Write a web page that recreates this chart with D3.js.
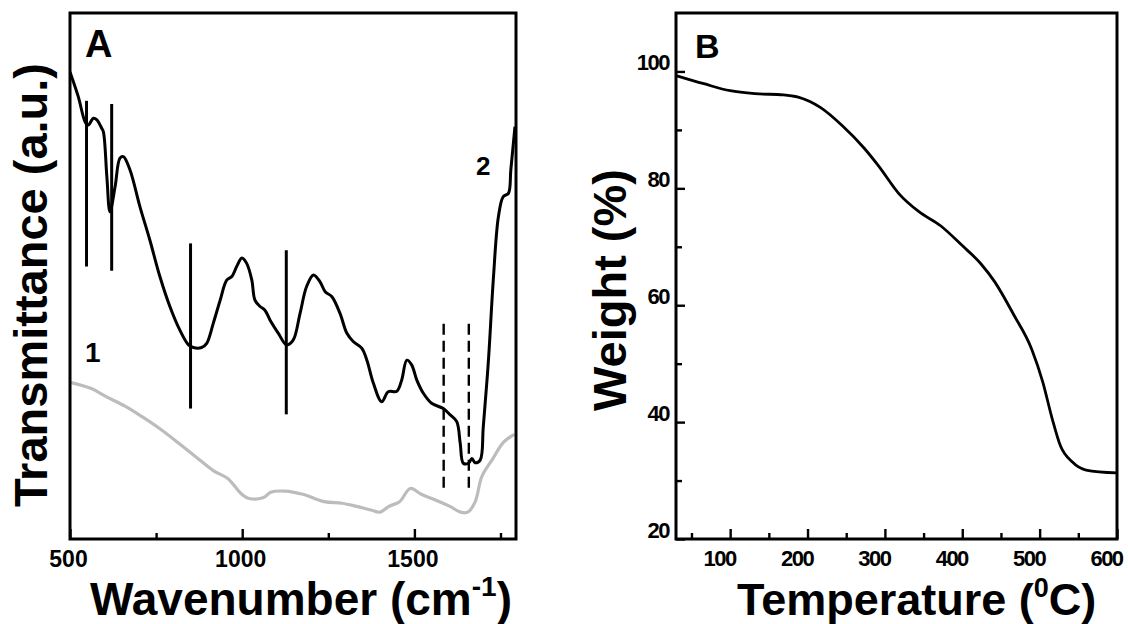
<!DOCTYPE html>
<html><head><meta charset="utf-8">
<script src="https://cdn.jsdelivr.net/npm/d3@7"></script>
<style>
body{margin:0;background:#fff}
svg{display:block;background:#fff}
text{font-family:"Liberation Sans",Arial,Helvetica,sans-serif;font-weight:bold;fill:#000}
</style>
</head><body>
<svg id="chart" width="1128" height="624"></svg>
<script>
// ---------------- Panel A : FTIR ----------------
const irWave2 = [500,524,544,553,568,578,592,597,607,616,631,645,655,674,703,732,761,790,819,844,858,882,897,916,936,955,970,984,999,1013,1028,1037,1052,1066,1081,1105,1129,1148,1168,1187,1207,1226,1241,1260,1284,1304,1323,1347,1362,1381,1405,1424,1449,1463,1478,1492,1507,1526,1550,1584,1604,1623,1633,1642,1657,1667,1676,1691,1700,1715,1729,1744,1758,1773,1780,1792];
const irTrans2 = [88.8,84.1,79.3,78.7,80.0,79.7,78.1,77.4,68.9,62.2,67.0,72.4,72.7,70.2,63.2,56.8,49.9,44.2,39.7,36.9,36.4,36.4,37.2,41.0,45.4,49.2,49.9,51.8,53.4,52.4,49.2,45.4,44.2,43.5,41.6,39.1,36.9,37.8,42.9,48.0,50.2,48.9,47.0,46.1,42.9,39.1,37.5,36.3,34.0,29.6,26.1,28.0,28.1,30.2,34.0,33.1,30.2,27.7,25.8,24.8,23.6,22.3,18.2,14.4,14.4,15.3,14.5,15.0,21.3,34.0,49.2,61.3,65.1,65.7,70.2,78.4];
const irWave1 = [500,562,604,661,708,760,812,864,916,958,999,1020,1062,1083,1124,1176,1238,1290,1332,1374,1400,1426,1457,1488,1520,1561,1603,1634,1655,1676,1696,1728,1759,1790];
const irTrans1 = [29.8,28.6,27.1,25.2,23.3,21.0,18.4,15.7,13.0,11.5,8.5,7.7,7.9,8.9,9.1,8.5,7.1,6.8,6.2,5.5,5.1,6.2,7.1,9.6,8.5,7.4,6.2,5.1,5.1,7.0,11.9,15.3,18.4,19.9];
const solidMarkWave = [548,621,850,1128];
const solidMarkTop = [83.3,82.7,56.2,54.9];
const solidMarkBottom = [51.8,51.0,24.8,23.7];
const dashMarkWave = [1585,1658];
const dashMarkTop = [40.9,40.9];
const dashMarkBottom = [9.7,9.7];
const irMajorTicks = [500,1000,1500];
const irMinorTicks = [750,1250,1750];
const irTickLabels = ["500","1000","1500"];
const irDomain = [500,1795];

// ---------------- Panel B : TGA ----------------
const tgaTemp = [30,66,100,132,169,188,217,245,273,292,318,344,372,400,424,442,466,490,504,516,527,542,560,600];
const tgaWeight = [99.3,97.9,96.7,96.2,96.0,95.6,93.8,90.7,86.9,83.8,79.1,76.0,73.6,70.2,67.1,64.0,58.5,52.4,46.9,40.7,35.9,33.2,31.8,31.3];
const tgaXMajor = [100,200,300,400,500,600];
const tgaXMinor = [50,150,250,350,450,550];
const tgaXLabels = ["100","200","300","400","500","600"];
const tgaYMajor = [20,40,60,80,100];
const tgaYMinor = [30,50,70,90];
const tgaYLabels = ["20","40","60","80","100"];

const svg = d3.select("#chart");
svg.append("rect").attr("width",1128).attr("height",624).attr("fill","#fff");

// ===== Panel A =====
const A = {l:70, r:516, t:13, b:539};
const xA = d3.scaleLinear().domain(irDomain).range([A.l, A.r]);
const yA = d3.scaleLinear().domain([0,100]).range([A.b, A.t]);

svg.append("clipPath").attr("id","clipA").append("rect")
  .attr("x",A.l).attr("y",A.t).attr("width",A.r-A.l).attr("height",A.b-A.t);

const gA = svg.append("g");
const lineA = d3.line().x(d=>xA(d[0])).y(d=>yA(d[1])).curve(d3.curveCatmullRom.alpha(0.5));
gA.append("path").datum(irWave1.map((w,i)=>[w,irTrans1[i]]))
  .attr("d",lineA).attr("fill","none").attr("stroke","#bcbcbc").attr("stroke-width",3.2)
  .attr("clip-path","url(#clipA)");
gA.append("path").datum(irWave2.map((w,i)=>[w,irTrans2[i]]))
  .attr("d",lineA).attr("fill","none").attr("stroke","#000").attr("stroke-width",3)
  .attr("stroke-linejoin","round").attr("clip-path","url(#clipA)");

gA.selectAll("line.solidmark").data(solidMarkWave).join("line").attr("class","solidmark")
  .attr("x1",d=>xA(d)).attr("x2",d=>xA(d))
  .attr("y1",(d,i)=>yA(solidMarkTop[i])).attr("y2",(d,i)=>yA(solidMarkBottom[i]))
  .attr("stroke","#000").attr("stroke-width",3);
gA.selectAll("line.dashmark").data(dashMarkWave).join("line").attr("class","dashmark")
  .attr("x1",d=>xA(d)).attr("x2",d=>xA(d))
  .attr("y1",(d,i)=>yA(dashMarkTop[i])).attr("y2",(d,i)=>yA(dashMarkBottom[i]))
  .attr("stroke","#000").attr("stroke-width",2.4).attr("stroke-dasharray","11,6");

// axis A
const axA = svg.append("g").attr("transform",`translate(0,${A.b})`)
  .call(d3.axisBottom(xA).tickValues(irMajorTicks).tickSize(-10).tickPadding(12)
        .tickFormat((d,i)=>irTickLabels[i]));
axA.select(".domain").remove();
axA.selectAll("line").attr("stroke","#000").attr("stroke-width",2.4);
axA.selectAll("text").attr("font-size",23).attr("font-family","'Liberation Sans',Arial,sans-serif")
  .attr("font-weight","bold").attr("dx",-2);
const axAm = svg.append("g").attr("transform",`translate(0,${A.b})`)
  .call(d3.axisBottom(xA).tickValues(irMinorTicks).tickSize(-6).tickFormat(""));
axAm.select(".domain").remove();
axAm.selectAll("line").attr("stroke","#000").attr("stroke-width",2.4);

svg.append("rect").attr("x",A.l).attr("y",A.t).attr("width",A.r-A.l).attr("height",A.b-A.t)
  .attr("fill","none").attr("stroke","#000").attr("stroke-width",3);

svg.append("text").attr("x",85).attr("y",57).attr("font-size",38).text("A");
svg.append("text").attr("x",85).attr("y",362).attr("font-size",28).text("1");
svg.append("text").attr("x",476).attr("y",175).attr("font-size",26).text("2");

const tA = svg.append("text").attr("x",90).attr("y",615).attr("font-size",46);
tA.append("tspan").text("Wavenumber (cm");
tA.append("tspan").attr("font-size",28).attr("dy",-19).text("-1");
tA.append("tspan").attr("dy",19).text(")");

svg.append("text").attr("transform","translate(47,285) rotate(-90)")
  .attr("text-anchor","middle").attr("font-size",47).text("Transmittance (a.u.)");

// ===== Panel B =====
const B = {l:676, r:1117, t:13, b:539};
const xB = d3.scaleLinear().domain([30,600]).range([B.l, B.r]);
const yB = d3.scaleLinear().domain([20,110]).range([B.b, B.t]);

const lineB = d3.line().x(d=>xB(d[0])).y(d=>yB(d[1])).curve(d3.curveMonotoneX);
svg.append("path").datum(tgaTemp.map((t,i)=>[t,tgaWeight[i]]))
  .attr("d",lineB).attr("fill","none").attr("stroke","#000").attr("stroke-width",2.8);

const axBx = svg.append("g").attr("transform",`translate(0,${B.b})`)
  .call(d3.axisBottom(xB).tickValues(tgaXMajor).tickSize(-10).tickPadding(11)
        .tickFormat((d,i)=>tgaXLabels[i]));
axBx.select(".domain").remove();
axBx.selectAll("line").attr("stroke","#000").attr("stroke-width",2.4);
axBx.selectAll("text").attr("font-size",22).attr("letter-spacing",-1.5)
  .attr("font-family","'Liberation Sans',Arial,sans-serif").attr("font-weight","bold").attr("dx",-11);
const axBxm = svg.append("g").attr("transform",`translate(0,${B.b})`)
  .call(d3.axisBottom(xB).tickValues(tgaXMinor).tickSize(-6).tickFormat(""));
axBxm.select(".domain").remove();
axBxm.selectAll("line").attr("stroke","#000").attr("stroke-width",2.4);

const axBy = svg.append("g").attr("transform",`translate(${B.l},0)`)
  .call(d3.axisLeft(yB).tickValues(tgaYMajor).tickSize(-9).tickPadding(7)
        .tickFormat((d,i)=>tgaYLabels[i]));
axBy.select(".domain").remove();
axBy.selectAll("line").attr("stroke","#000").attr("stroke-width",2.4);
axBy.selectAll("text").attr("font-size",22).attr("letter-spacing",-1.5)
  .attr("font-family","'Liberation Sans',Arial,sans-serif").attr("font-weight","bold").attr("dy","-0.08em");
const axBym = svg.append("g").attr("transform",`translate(${B.l},0)`)
  .call(d3.axisLeft(yB).tickValues(tgaYMinor).tickSize(-6).tickFormat(""));
axBym.select(".domain").remove();
axBym.selectAll("line").attr("stroke","#000").attr("stroke-width",2.4);

svg.append("rect").attr("x",B.l).attr("y",B.t).attr("width",B.r-B.l).attr("height",B.b-B.t)
  .attr("fill","none").attr("stroke","#000").attr("stroke-width",3);

svg.append("text").attr("x",695).attr("y",58).attr("font-size",34).text("B");

const tB = svg.append("text").attr("x",737).attr("y",615).attr("font-size",45);
tB.append("tspan").text("Temperature (");
tB.append("tspan").attr("font-size",27).attr("dy",-18).text("0");
tB.append("tspan").attr("dy",18).text("C)");

svg.append("text").attr("transform","translate(626,290) rotate(-90)")
  .attr("text-anchor","middle").attr("font-size",47).text("Weight (%)");
</script>
</body></html>
